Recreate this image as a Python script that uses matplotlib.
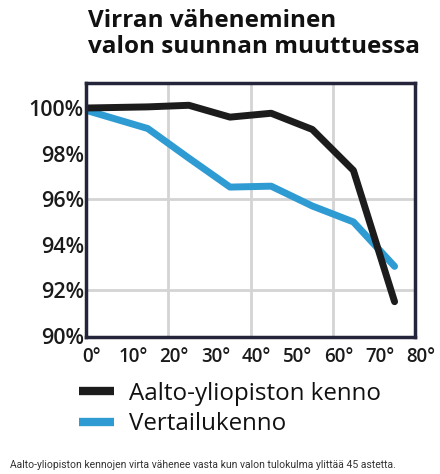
"""Current loss vs. light incidence angle (Aalto cell vs reference cell)."""

import matplotlib
matplotlib.use("Agg")
import matplotlib.pyplot as plt
import matplotlib.transforms as mtransforms

# Data
angles = [0, 15, 25, 35, 45, 55, 65, 75]
aalto_cell = [100.0, 100.05, 100.12, 99.6, 99.77, 99.06, 97.26, 91.5]
reference_cell = [99.9, 99.1, 97.8, 96.53, 96.57, 95.7, 95.0, 93.05]

x_ticks = [0, 10, 20, 30, 40, 50, 60, 70, 80]
x_tick_labels = [f"{v}°" for v in x_ticks]
y_ticks = [90, 92, 94, 96, 98, 100]
y_tick_labels = [f"{v}%" for v in y_ticks]

series_labels = ["Aalto-yliopiston kenno", "Vertailukenno"]
title = "Virran väheneminen\nvalon suunnan muuttuessa"
caption = "Aalto-yliopiston kennojen virta vähenee vasta kun valon tulokulma ylittää 45 astetta."

BLACK = "#1c1c1c"
BLUE = "#2f9bd3"
FRAME = "#24243a"
GRID = "#d4d4d4"

fig = plt.figure(figsize=(4.4, 4.74), dpi=100)
ax = fig.add_axes([0.1955, 0.289, 0.748, 0.536])

line_a, = ax.plot(angles, aalto_cell, color=BLACK, lw=5, solid_capstyle="round",
                  label=series_labels[0], zorder=4)
line_b, = ax.plot(angles, reference_cell, color=BLUE, lw=5, solid_capstyle="round",
                  label=series_labels[1], zorder=3)

ax.set_xlim(0, 80)
ax.set_ylim(89.95, 101.1)

# sparse grid: every 20 degrees / every 4 percent
for gx in [20, 40, 60]:
    ax.axvline(gx, color=GRID, lw=2, zorder=1)
for gy in [92, 96]:
    ax.axhline(gy, color=GRID, lw=2, zorder=1)

ax.set_xticks(x_ticks)
ax.set_xticklabels(x_tick_labels, fontsize=13.5, fontweight="semibold",
                   fontfamily="Open Sans", color="#1a1a1a")
ax.set_yticks(y_ticks)
ax.set_yticklabels(y_tick_labels, fontsize=15.5, fontweight="semibold",
                   fontfamily="Open Sans", color="#1a1a1a")
ax.tick_params(axis="both", length=0)
ax.tick_params(axis="x", pad=7)
ax.tick_params(axis="y", pad=1.5)

# x labels sit a little right of their ticks in the original
offset = mtransforms.ScaledTranslation(6 / 100, 0, fig.dpi_scale_trans)
for lbl in ax.get_xticklabels():
    lbl.set_transform(lbl.get_transform() + offset)

for spine in ax.spines.values():
    spine.set_color(FRAME)
    spine.set_linewidth(2.5)
    spine.set_zorder(5)

fig.text(0.2, 0.98, title, fontsize=17.5, fontweight="bold", fontfamily="Open Sans",
         color="#111111", va="top", ha="left", linespacing=1.1)

leg = fig.legend(handles=[line_a, line_b], loc="upper left",
                 bbox_to_anchor=(0.18, 0.195), frameon=False,
                 prop={"family": "Open Sans", "size": 17.4},
                 handlelength=1.45, handletextpad=0.6, labelspacing=0.28,
                 borderpad=0, borderaxespad=0)
for h in leg.legend_handles:
    h.set_linewidth(6)
    h.set_solid_capstyle("butt")
for t in leg.get_texts():
    t.set_color("#111111")

fig.text(0.023, 0.008, caption, fontsize=7.5, fontfamily="Roboto", color="#333333",
         ha="left", va="bottom")

plt.savefig("out.png", dpi=100)
plt.close()
